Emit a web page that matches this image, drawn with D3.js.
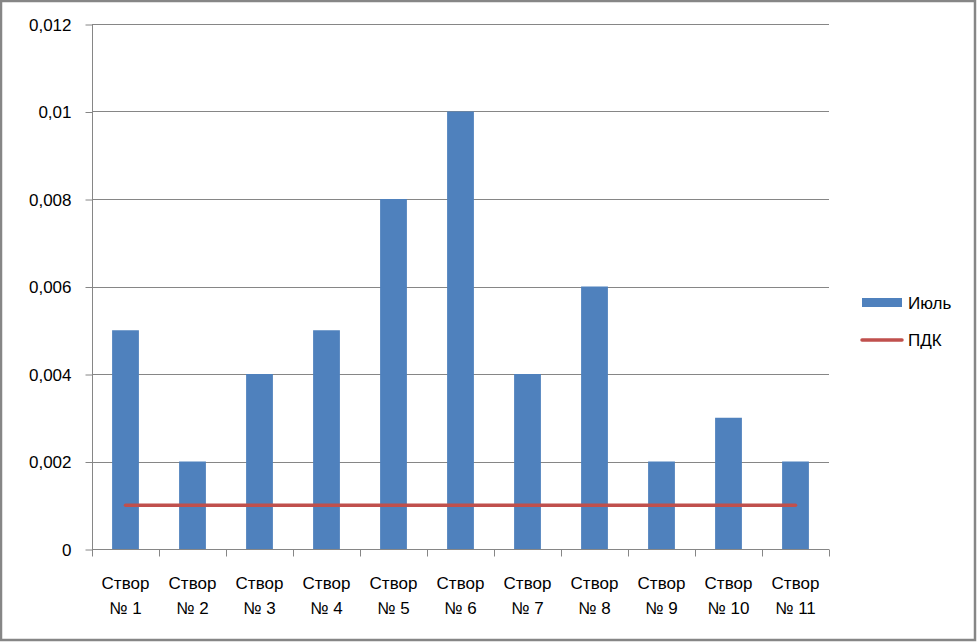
<!DOCTYPE html>
<html><head><meta charset="utf-8">
<script src="https://cdn.jsdelivr.net/npm/d3@7"></script>
<style>
html,body{margin:0;padding:0;background:#fff;}
svg{display:block;}
text{font-family:"Liberation Sans",Arial,sans-serif;fill:#000;}
</style></head>
<body>
<script>
const categories = ["Створ|№ 1","Створ|№ 2","Створ|№ 3","Створ|№ 4","Створ|№ 5","Створ|№ 6","Створ|№ 7","Створ|№ 8","Створ|№ 9","Створ|№ 10","Створ|№ 11"];
const july = [0.005,0.002,0.004,0.005,0.008,0.01,0.004,0.006,0.002,0.003,0.002];
const pdk = [0.001,0.001,0.001,0.001,0.001,0.001,0.001,0.001,0.001,0.001,0.001];
const yTicks = [0,0.002,0.004,0.006,0.008,0.01,0.012];
const yTickLabels = ["0","0,002","0,004","0,006","0,008","0,01","0,012"];
const seriesNames = ["Июль","ПДК"];

const W=977,H=642;
const svg=d3.select("body").append("svg").attr("width",W).attr("height",H);
svg.append("rect").attr("x",1).attr("y",1).attr("width",W-3).attr("height",H-3)
  .attr("fill","#fff").attr("stroke","#868686").attr("stroke-width",2.5);

const pL=92,pR=829,pT=24,pB=549;
const x=d3.scaleBand().domain(d3.range(categories.length)).range([pL,pR]).padding(0);
const y=d3.scaleLinear().domain([0,0.012]).range([pB,pT]);

// gridlines
svg.append("g").selectAll("line").data(yTicks.slice(1)).join("line")
  .attr("x1",pL).attr("x2",pR).attr("y1",d=>Math.round(y(d))+0.5).attr("y2",d=>Math.round(y(d))+0.5)
  .attr("stroke","#868686").attr("stroke-width",1);

// y axis
const yAxis=d3.axisLeft(y).tickValues(yTicks).tickSize(7).tickPadding(14)
  .tickFormat((d,i)=>yTickLabels[i]);
const gy=svg.append("g").attr("transform",`translate(${pL+0.5},0.5)`).call(yAxis);
gy.selectAll("path,line").attr("stroke","#868686");
gy.select(".domain").attr("d",`M0,${pB}V${pT}`);
gy.selectAll("text").attr("font-size",17).attr("font-family","Liberation Sans, Arial, sans-serif").attr("fill","#000").attr("dy","0.35em");

// bars
const bw=x.bandwidth()*0.4;
svg.append("g").selectAll("rect").data(july).join("rect")
  .attr("x",(d,i)=>x(i)+(x.bandwidth()-bw)/2).attr("width",bw)
  .attr("y",d=>y(d)).attr("height",d=>y(0)-y(d)).attr("fill","#4f81bd");

// x axis
const gx=svg.append("g").attr("transform",`translate(0,${pB+0.5})`);
gx.append("line").attr("x1",pL).attr("x2",pR).attr("stroke","#868686");
const bounds=d3.range(categories.length+1).map(i=>i<categories.length?x(i):pR);
gx.selectAll(".tk").data(bounds).join("line").attr("class","tk")
  .attr("x1",d=>Math.round(d)+0.5).attr("x2",d=>Math.round(d)+0.5).attr("y1",0).attr("y2",7).attr("stroke","#868686");
categories.forEach((c,i)=>{
  const parts=c.split("|");
  const cx=x(i)+x.bandwidth()/2;
  const t=gx.append("text").attr("text-anchor","middle").attr("font-size",17);
  t.append("tspan").attr("x",cx).attr("y",39).text(parts[0]);
  t.append("tspan").attr("x",cx).attr("y",64).text(parts[1]);
});

// PDK line
const line=d3.line().x((d,i)=>x(i)+x.bandwidth()/2).y(d=>y(d));
svg.append("path").datum(pdk).attr("d",line).attr("fill","none")
  .attr("stroke","#c0504d").attr("stroke-width",3.5).attr("stroke-linecap","round");

// legend
const lg=svg.append("g");
lg.append("rect").attr("x",862).attr("y",298).attr("width",40).attr("height",9).attr("fill","#4f81bd");
lg.append("text").attr("x",908).attr("y",303).attr("dy","0.35em").attr("font-size",17).text(seriesNames[0]);
lg.append("line").attr("x1",862).attr("x2",902).attr("y1",340).attr("y2",340)
  .attr("stroke","#c0504d").attr("stroke-width",3.5).attr("stroke-linecap","round");
lg.append("text").attr("x",908).attr("y",340).attr("dy","0.35em").attr("font-size",17).text(seriesNames[1]);
</script>
</body></html>
